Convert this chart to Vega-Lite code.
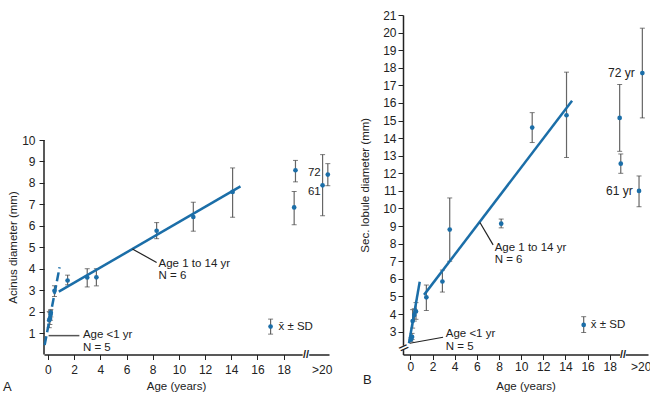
{
  "$schema": "https://vega.github.io/schema/vega-lite/v6.json",
  "padding": {"left": 2, "top": 9, "right": 0, "bottom": 0},
  "spacing": 27,
  "config": {
    "view": {"stroke": null},
    "font": "Liberation Sans",
    "axis": {"labelFont": "Liberation Sans", "labelFontSize": 12, "titleFont": "Liberation Sans", "titleFontSize": 11.5, "titleFontWeight": "normal", "domainColor": "#222", "domainWidth": 1.5, "tickColor": "#222", "tickSize": 5, "labelColor": "#222", "titleColor": "#222", "grid": false, "labelPadding": 3}
  },
  "datasets": {
    "ptsA": [
      {"x": 0.1, "y": 1.6, "lo": 1.25, "hi": 2.0},
      {"x": 0.15, "y": 1.68, "lo": 1.4, "hi": 1.95},
      {"x": 0.2, "y": 1.85, "lo": 1.6, "hi": 2.05},
      {"x": 0.22, "y": 1.95, "lo": 1.75, "hi": 2.1},
      {"x": 0.5, "y": 2.97, "lo": 2.7, "hi": 3.2},
      {"x": 1.5, "y": 3.45, "lo": 3.25, "hi": 3.7},
      {"x": 3.0, "y": 3.59, "lo": 3.15, "hi": 4.0},
      {"x": 3.7, "y": 3.6, "lo": 3.2, "hi": 4.0},
      {"x": 8.3, "y": 5.77, "lo": 5.4, "hi": 6.15},
      {"x": 11.1, "y": 6.41, "lo": 5.75, "hi": 7.1},
      {"x": 14.1, "y": 7.58, "lo": 6.4, "hi": 8.7},
      {"x": 18.9, "y": 8.59, "lo": 8.05, "hi": 9.05},
      {"x": 18.8, "y": 6.86, "lo": 6.05, "hi": 7.6},
      {"x": 20.97, "y": 7.89, "lo": 6.47, "hi": 9.32},
      {"x": 21.37, "y": 8.39, "lo": 7.87, "hi": 8.9},
      {"x": 17.0, "y": 1.3, "lo": 0.95, "hi": 1.65}
    ],
    "linesA": [
      {"kind": "lt1", "x": -0.25, "y": 0.44, "x2": 0.89, "y2": 4.07},
      {"kind": "fit", "x": 0.83, "y": 2.93, "x2": 14.7, "y2": 7.84},
      {"kind": "lead1", "x": 6.45, "y": 4.92, "x2": 8.3, "y2": 4.29},
      {"kind": "lead0", "x": 0.05, "y": 0.88, "x2": 2.4, "y2": 0.88},
      {"kind": "axis", "x": -0.3, "y": 0, "x2": -0.3, "y2": 10},
      {"kind": "gap", "x": 19.45, "y": 0, "x2": 19.95, "y2": 0}
    ],
    "textA": [
      {"x": 8.44, "y": 4.24, "text": "Age 1 to 14 yr", "kind": "l"},
      {"x": 8.44, "y": 3.66, "text": "N = 6", "kind": "l"},
      {"x": 2.67, "y": 0.9, "text": "Age <1 yr", "kind": "l"},
      {"x": 2.67, "y": 0.32, "text": "N = 5", "kind": "l"},
      {"x": 19.85, "y": 8.46, "text": "72", "kind": "l"},
      {"x": 19.85, "y": 7.58, "text": "61", "kind": "l"},
      {"x": 17.6, "y": 1.3, "text": "x̄ ± SD", "kind": "l"},
      {"x": 19.7, "y": 0, "text": "//", "kind": "brk"},
      {"x": -3.1, "y": -1.52, "text": "A", "kind": "panel"}
    ],
    "ptsB": [
      {"x": 0.05, "y": 2.55, "lo": 2.45, "hi": 2.65},
      {"x": 0.15, "y": 2.7, "lo": 2.55, "hi": 2.9},
      {"x": 0.2, "y": 3.6, "lo": 3.2, "hi": 4.25},
      {"x": 0.35, "y": 3.95, "lo": 3.6, "hi": 4.3},
      {"x": 0.5, "y": 4.15, "lo": 3.7, "hi": 4.65},
      {"x": 1.44, "y": 4.95, "lo": 4.2, "hi": 5.65},
      {"x": 2.89, "y": 5.85, "lo": 5.25, "hi": 6.5},
      {"x": 3.55, "y": 8.8, "lo": 7.0, "hi": 10.6},
      {"x": 8.2, "y": 9.14, "lo": 8.9, "hi": 9.4},
      {"x": 11.0, "y": 14.6, "lo": 13.75, "hi": 15.45},
      {"x": 14.1, "y": 15.3, "lo": 12.9, "hi": 17.75},
      {"x": 18.9, "y": 15.15, "lo": 13.25, "hi": 17.05},
      {"x": 19.0, "y": 12.55, "lo": 12.0, "hi": 13.1},
      {"x": 20.65, "y": 11.0, "lo": 10.1, "hi": 11.85},
      {"x": 20.95, "y": 17.7, "lo": 15.15, "hi": 20.25},
      {"x": 15.65, "y": 3.38, "lo": 2.95, "hi": 3.85}
    ],
    "linesB": [
      {"kind": "lt1", "x": -0.13, "y": 2.34, "x2": 0.84, "y2": 5.84},
      {"kind": "fit", "x": 1.23, "y": 5.09, "x2": 14.6, "y2": 16.12},
      {"kind": "lead1", "x": 6.28, "y": 9.2, "x2": 7.47, "y2": 7.93},
      {"kind": "lead0", "x": -0.06, "y": 2.34, "x2": 2.95, "y2": 2.68},
      {"kind": "gap", "x": 18.95, "y": 1.7, "x2": 19.45, "y2": 1.7},
      {"kind": "gap", "x": -0.67, "y": 1.95, "x2": -0.67, "y2": 2.2}
    ],
    "textB": [
      {"x": 7.61, "y": 7.76, "text": "Age 1 to 14 yr", "kind": "l"},
      {"x": 7.61, "y": 7.05, "text": "N = 6", "kind": "l"},
      {"x": 3.19, "y": 2.84, "text": "Age <1 yr", "kind": "l"},
      {"x": 3.19, "y": 2.13, "text": "N = 5", "kind": "l"},
      {"x": 20.26, "y": 17.7, "text": "72 yr", "kind": "r"},
      {"x": 20.08, "y": 11.0, "text": "61 yr", "kind": "r"},
      {"x": 16.3, "y": 3.38, "text": "x̄ ± SD", "kind": "l"},
      {"x": 19.2, "y": 1.7, "text": "//", "kind": "brk"},
      {"x": -0.67, "y": 2.06, "text": "//", "kind": "vbrk"},
      {"x": -3.9, "y": 0.25, "text": "B", "kind": "panel"}
    ]
  },
  "hconcat": [
    {
      "width": 285,
      "height": 339.5,
      "encoding": {
        "x": {"field": "x", "type": "quantitative", "title": "Age (years)",
          "scale": {"domain": [-0.3, 21.46], "nice": false, "zero": false},
          "axis": {"values": [0, 2, 4, 6, 8, 10, 12, 14, 16, 18, 20.9], "labelExpr": "datum.value > 20 ? '>20' : datum.label", "tickColor": {"condition": {"test": "datum.value > 20", "value": "transparent"}, "value": "#222"}, "labelPadding": 5, "titlePadding": 5, "titleX": 132}},
        "y": {"field": "y", "type": "quantitative", "title": "Acinus diameter (mm)",
          "scale": {"domain": [0, 15.83], "nice": false, "zero": false},
          "axis": {"values": [1, 2, 3, 4, 5, 6, 7, 8, 9, 10], "domain": false, "labelPadding": 4, "titlePadding": 3, "titleY": 232}}
      },
      "layer": [
        {"data": {"name": "linesA"}, "transform": [{"filter": "datum.kind == 'axis'"}], "mark": {"type": "rule", "color": "#222", "strokeWidth": 1.5}, "encoding": {"x2": {"field": "x2"}, "y2": {"field": "y2"}}},
        {"data": {"name": "linesA"}, "transform": [{"filter": "datum.kind == 'gap'"}], "mark": {"type": "rule", "color": "white", "strokeWidth": 4}, "encoding": {"x2": {"field": "x2"}, "y2": {"field": "y2"}}},
        {"data": {"name": "ptsA"}, "mark": {"type": "rule", "color": "#666", "strokeWidth": 1.2}, "encoding": {"y": {"field": "lo", "type": "quantitative", "title": "Acinus diameter (mm)"}, "y2": {"field": "hi"}}},
        {"data": {"name": "ptsA"}, "mark": {"type": "tick", "orient": "horizontal", "color": "#444", "size": 5, "thickness": 1}, "encoding": {"y": {"field": "lo", "type": "quantitative", "title": "Acinus diameter (mm)"}}},
        {"data": {"name": "ptsA"}, "mark": {"type": "tick", "orient": "horizontal", "color": "#444", "size": 5, "thickness": 1}, "encoding": {"y": {"field": "hi", "type": "quantitative", "title": "Acinus diameter (mm)"}}},
        {"data": {"name": "linesA"}, "transform": [{"filter": "datum.kind == 'lt1'"}], "mark": {"type": "rule", "color": "#1b6ea8", "strokeWidth": 2.5, "strokeDash": [9, 4]}, "encoding": {"x2": {"field": "x2"}, "y2": {"field": "y2"}}},
        {"data": {"name": "linesA"}, "transform": [{"filter": "datum.kind == 'fit'"}], "mark": {"type": "rule", "color": "#1b6ea8", "strokeWidth": 2.5}, "encoding": {"x2": {"field": "x2"}, "y2": {"field": "y2"}}},
        {"data": {"name": "linesA"}, "transform": [{"filter": "datum.kind == 'lead1'"}], "mark": {"type": "rule", "color": "#222", "strokeWidth": 1.2}, "encoding": {"x2": {"field": "x2"}, "y2": {"field": "y2"}}},
        {"data": {"name": "linesA"}, "transform": [{"filter": "datum.kind == 'lead0'"}], "mark": {"type": "rule", "color": "#555", "strokeWidth": 1.5}, "encoding": {"x2": {"field": "x2"}, "y2": {"field": "y2"}}},
        {"data": {"name": "ptsA"}, "mark": {"type": "circle", "color": "#1b6ea8", "opacity": 1, "size": 22}},
        {"data": {"name": "textA"}, "transform": [{"filter": "datum.kind == 'l'"}], "mark": {"type": "text", "align": "left", "baseline": "middle", "fontSize": 11.5, "color": "#222"}, "encoding": {"text": {"field": "text"}}},
        {"data": {"name": "textA"}, "transform": [{"filter": "datum.kind == 'brk'"}], "mark": {"type": "text", "align": "center", "baseline": "middle", "fontSize": 11, "fontWeight": "bold", "color": "#222"}, "encoding": {"text": {"field": "text"}}},
        {"data": {"name": "textA"}, "transform": [{"filter": "datum.kind == 'panel'"}], "mark": {"type": "text", "align": "center", "baseline": "middle", "fontSize": 13, "color": "#222"}, "encoding": {"text": {"field": "text"}}}
      ]
    },
    {
      "width": 245,
      "height": 339.5,
      "encoding": {
        "x": {"field": "x", "type": "quantitative", "title": "Age (years)",
          "scale": {"domain": [-0.67, 21.46], "nice": false, "zero": false},
          "axis": {"values": [0, 2, 4, 6, 8, 10, 12, 14, 16, 18, 20.8], "labelExpr": "datum.value > 20 ? '>20' : datum.label", "tickColor": {"condition": {"test": "datum.value > 20", "value": "transparent"}, "value": "#222"}, "labelPadding": 2, "titlePadding": 8}},
        "y": {"field": "y", "type": "quantitative", "title": "Sec. lobule diameter (mm)",
          "scale": {"domain": [1.7, 21], "nice": false, "zero": false},
          "axis": {"values": [3, 4, 5, 6, 7, 8, 9, 10, 11, 12, 13, 14, 15, 16, 17, 18, 19, 20, 21], "labelPadding": 2, "titlePadding": 12}}
      },
      "layer": [
        {"data": {"name": "linesB"}, "transform": [{"filter": "datum.kind == 'gap'"}], "mark": {"type": "rule", "color": "white", "strokeWidth": 4}, "encoding": {"x2": {"field": "x2"}, "y2": {"field": "y2"}}},
        {"data": {"name": "ptsB"}, "mark": {"type": "rule", "color": "#666", "strokeWidth": 1.2}, "encoding": {"y": {"field": "lo", "type": "quantitative", "title": "Sec. lobule diameter (mm)"}, "y2": {"field": "hi"}}},
        {"data": {"name": "ptsB"}, "mark": {"type": "tick", "orient": "horizontal", "color": "#444", "size": 5, "thickness": 1}, "encoding": {"y": {"field": "lo", "type": "quantitative", "title": "Sec. lobule diameter (mm)"}}},
        {"data": {"name": "ptsB"}, "mark": {"type": "tick", "orient": "horizontal", "color": "#444", "size": 5, "thickness": 1}, "encoding": {"y": {"field": "hi", "type": "quantitative", "title": "Sec. lobule diameter (mm)"}}},
        {"data": {"name": "linesB"}, "transform": [{"filter": "datum.kind == 'lt1' || datum.kind == 'fit'"}], "mark": {"type": "rule", "color": "#1b6ea8", "strokeWidth": 2.5}, "encoding": {"x2": {"field": "x2"}, "y2": {"field": "y2"}}},
        {"data": {"name": "linesB"}, "transform": [{"filter": "datum.kind == 'lead1' || datum.kind == 'lead0'"}], "mark": {"type": "rule", "color": "#222", "strokeWidth": 1.2}, "encoding": {"x2": {"field": "x2"}, "y2": {"field": "y2"}}},
        {"data": {"name": "ptsB"}, "mark": {"type": "circle", "color": "#1b6ea8", "opacity": 1, "size": 22}},
        {"data": {"name": "textB"}, "transform": [{"filter": "datum.kind == 'l'"}], "mark": {"type": "text", "align": "left", "baseline": "middle", "fontSize": 11.5, "color": "#222"}, "encoding": {"text": {"field": "text"}}},
        {"data": {"name": "textB"}, "transform": [{"filter": "datum.kind == 'r'"}], "mark": {"type": "text", "align": "right", "baseline": "middle", "fontSize": 12, "color": "#222"}, "encoding": {"text": {"field": "text"}}},
        {"data": {"name": "textB"}, "transform": [{"filter": "datum.kind == 'brk'"}], "mark": {"type": "text", "align": "center", "baseline": "middle", "fontSize": 11, "fontWeight": "bold", "color": "#222"}, "encoding": {"text": {"field": "text"}}},
        {"data": {"name": "textB"}, "transform": [{"filter": "datum.kind == 'vbrk'"}], "mark": {"type": "text", "align": "center", "baseline": "middle", "fontSize": 11, "fontWeight": "bold", "angle": 55, "color": "#222"}, "encoding": {"text": {"field": "text"}}},
        {"data": {"name": "textB"}, "transform": [{"filter": "datum.kind == 'panel'"}], "mark": {"type": "text", "align": "center", "baseline": "middle", "fontSize": 13, "color": "#222"}, "encoding": {"text": {"field": "text"}}}
      ]
    }
  ]
}
